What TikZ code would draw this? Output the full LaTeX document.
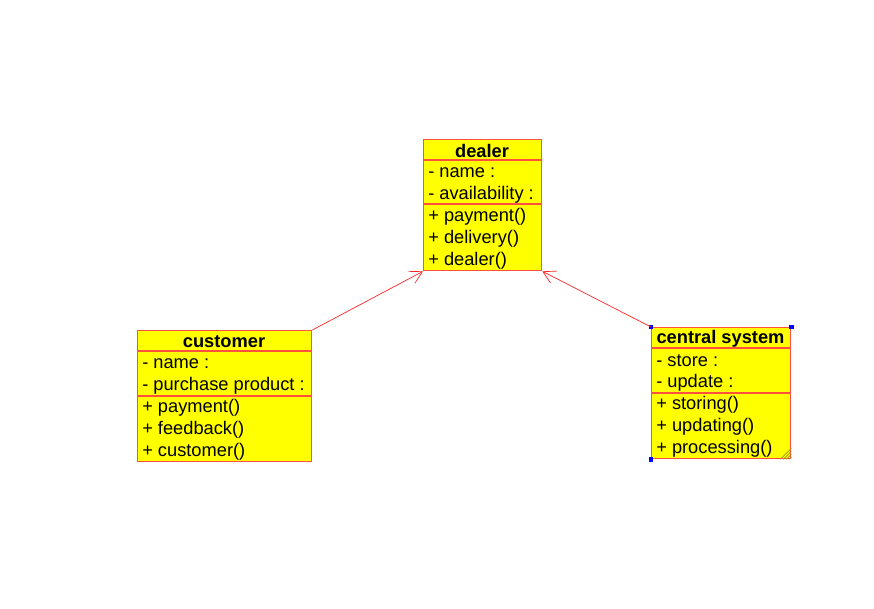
\documentclass[tikz,border=0pt]{standalone}
\usepackage{fontspec}
\setmainfont{Liberation Sans}
\usetikzlibrary{arrows.meta}
\definecolor{boxline}{HTML}{FF5040}
\definecolor{boxfill}{HTML}{FFFF00}
\definecolor{conn}{HTML}{FF2020}
\definecolor{handle}{HTML}{0000FF}
\definecolor{grip}{HTML}{A09020}
\tikzset{
  classbox/.style={draw=boxline, fill=boxfill, line width=1pt, rectangle, anchor=north west, inner sep=0pt},
  sepline/.style={draw=boxline, line width=1pt},
  member/.style={anchor=west, inner sep=0pt, font=\fontsize{13.7}{15}\selectfont},
  title/.style={anchor=center, inner sep=0pt, font=\fontsize{13.7}{15}\selectfont\bfseries},
  assoc/.style={draw=conn, line width=0.5pt, -{Straight Barb[length=9pt,width=10pt]}},
  handlebox/.style={fill=handle, draw=none, minimum size=3.5pt, inner sep=0pt}
}
\begin{document}
\begin{tikzpicture}[x=0.75pt,y=-0.75pt]
\useasboundingbox (0,0) rectangle (874,609);
\fill[white] (0,0) rectangle (874,609);

% dealer
\node[classbox, minimum width=88.5pt, minimum height=98.25pt] (dealer) at (423,139) {};
\draw[sepline] (423,160) -- (541,160);
\draw[sepline] (423,204) -- (541,204);
\node[title] (dealerT) at (482,151) {dealer};
\node[member] (d1) at (428,173) {- name :};
\node[member] (d2) at (428,195) {- availability :};
\node[member] (d3) at (428,217) {+ payment()};
\node[member] (d4) at (428,239) {+ delivery()};
\node[member] (d5) at (428,261) {+ dealer()};

% customer
\node[classbox, minimum width=130.5pt, minimum height=98.25pt] (customer) at (137,330) {};
\draw[sepline] (137,351) -- (311,351);
\draw[sepline] (137,396) -- (311,396);
\node[title] (customerT) at (224,342) {customer};
\node[member] (c1) at (142,364) {- name :};
\node[member] (c2) at (142,386) {- purchase product :};
\node[member] (c3) at (142,408) {+ payment()};
\node[member] (c4) at (142,430) {+ feedback()};
\node[member] (c5) at (142,452) {+ customer()};

% central system
\node[classbox, minimum width=104.25pt, minimum height=98.25pt] (central) at (651,327) {};
\draw[sepline] (651,348) -- (790,348);
\draw[sepline] (651,393) -- (790,393);
\node[title] (centralT) at (720.5,339) {central system};
\node[member] (s1) at (656,361) {- store :};
\node[member] (s2) at (656,383) {- update :};
\node[member] (s3) at (656,405) {+ storing()};
\node[member] (s4) at (656,427) {+ updating()};
\node[member] (s5) at (656,449) {+ processing()};
% selection handles
\node[handlebox] (h1) at (central.north west) {};
\node[handlebox] (h2) at (central.north east) {};
\node[handlebox] (h3) at (central.south west) {};
\foreach \k in {2,5,8,11}{
  \draw[grip, line width=0.5pt] ([xshift=-\k*0.75pt]central.south east) -- ([yshift=\k*0.75pt]central.south east);
}

% connectors
\draw[assoc] (customer.north east) -- (dealer.south west);
\draw[assoc] (central.north west) -- (dealer.south east);
\end{tikzpicture}
\end{document}
